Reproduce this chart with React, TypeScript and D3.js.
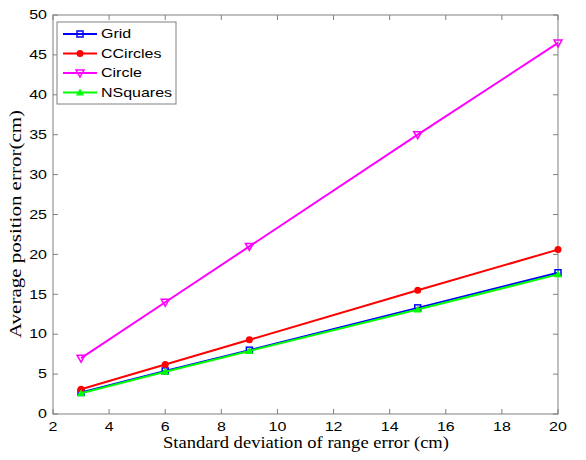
import React, { useEffect, useRef } from "react";
import * as d3 from "d3";

const xValues = [3, 6, 9, 15, 20];
const gridValues = [2.7, 5.4, 8.0, 13.3, 17.7];
const ccirclesValues = [3.1, 6.2, 9.3, 15.5, 20.6];
const circleValues = [7.0, 14.0, 21.0, 35.0, 46.5];
const nsquaresValues = [2.6, 5.3, 7.9, 13.1, 17.5];
const xTicks = [2, 4, 6, 8, 10, 12, 14, 16, 18, 20];
const yTicks = [0, 5, 10, 15, 20, 25, 30, 35, 40, 45, 50];

const series = [
  { name: "Grid", values: gridValues, color: "#0000ff", marker: "square" },
  { name: "CCircles", values: ccirclesValues, color: "#ff0000", marker: "circle" },
  { name: "Circle", values: circleValues, color: "#ff00ff", marker: "tridown" },
  { name: "NSquares", values: nsquaresValues, color: "#00ff00", marker: "triup" },
];

function drawMarker(g: any, kind: string, x: number, y: number, color: string) {
  if (kind === "square") {
    g.append("rect").attr("x", x - 3).attr("y", y - 3).attr("width", 6).attr("height", 6)
      .attr("fill", "none").attr("stroke", color).attr("stroke-width", 1.5);
  } else if (kind === "circle") {
    g.append("circle").attr("cx", x).attr("cy", y).attr("r", 3.5).attr("fill", color);
  } else if (kind === "tridown") {
    g.append("path").attr("d", `M${x - 4},${y - 3}L${x + 4},${y - 3}L${x},${y + 4}Z`)
      .attr("fill", "none").attr("stroke", color).attr("stroke-width", 1.5);
  } else {
    g.append("path").attr("d", `M${x - 4},${y + 3}L${x + 4},${y + 3}L${x},${y - 4}Z`)
      .attr("fill", color);
  }
}

export default function App() {
  const ref = useRef<SVGSVGElement>(null);

  useEffect(() => {
    const svg = d3.select(ref.current);
    svg.selectAll("*").remove();

    const left = 53, right = 558, top = 15, bottom = 414;
    const x = d3.scaleLinear().domain([2, 20]).range([left, right]);
    const y = d3.scaleLinear().domain([0, 50]).range([bottom, top]);
    const axisColor = "#808080";
    const squash = 0.75; // tick/legend text is flattened in the reference

    svg.append("rect").attr("width", 586).attr("height", 460).attr("fill", "#fff");

    // box and inward ticks
    const axes = svg.append("g").attr("stroke", axisColor).attr("stroke-width", 1);
    axes.append("rect").attr("x", left).attr("y", top).attr("width", right - left)
      .attr("height", bottom - top).attr("fill", "none");
    xTicks.forEach((t) => {
      axes.append("line").attr("x1", x(t)).attr("x2", x(t)).attr("y1", bottom).attr("y2", bottom - 5);
      axes.append("line").attr("x1", x(t)).attr("x2", x(t)).attr("y1", top).attr("y2", top + 5);
    });
    yTicks.forEach((t) => {
      axes.append("line").attr("x1", left).attr("x2", left + 5).attr("y1", y(t)).attr("y2", y(t));
      axes.append("line").attr("x1", right).attr("x2", right - 5).attr("y1", y(t)).attr("y2", y(t));
    });

    const tickFont = "Liberation Sans, Arial, sans-serif";
    svg.append("g").selectAll("text").data(xTicks).enter().append("text")
      .attr("transform", (d) => `translate(${x(d)},${bottom + 17}) scale(1,${squash})`)
      .attr("text-anchor", "middle")
      .attr("font-family", tickFont).attr("font-size", 16).text((d) => d);
    svg.append("g").selectAll("text").data(yTicks).enter().append("text")
      .attr("transform", (d) => `translate(${left - 6},${y(d) + 4.2}) scale(1,${squash})`)
      .attr("text-anchor", "end")
      .attr("font-family", tickFont).attr("font-size", 16).text((d) => d);

    const labelFont = "Liberation Serif, Times New Roman, serif";
    svg.append("text").attr("x", 163).attr("y", 448)
      .attr("textLength", 286).attr("lengthAdjust", "spacingAndGlyphs")
      .attr("font-family", labelFont).attr("font-size", 17)
      .text("Standard deviation of range error (cm)");
    svg.append("text").attr("transform", `translate(21,338) rotate(-90)`)
      .attr("textLength", 228).attr("lengthAdjust", "spacingAndGlyphs")
      .attr("font-family", labelFont).attr("font-size", 17)
      .text("Average position error(cm)");

    const line = d3.line<number>().x((_, i) => x(xValues[i])).y((d) => y(d));
    series.forEach((s) => {
      const g = svg.append("g");
      g.append("path").attr("d", line(s.values)).attr("fill", "none")
        .attr("stroke", s.color).attr("stroke-width", 2);
      s.values.forEach((v, i) => drawMarker(g, s.marker, x(xValues[i]), y(v), s.color));
    });

    // legend
    const lg = svg.append("g");
    lg.append("rect").attr("x", 57).attr("y", 22).attr("width", 119).attr("height", 82)
      .attr("fill", "#fff").attr("stroke", axisColor);
    series.forEach((s, i) => {
      const ly = 34 + i * 19.5;
      lg.append("line").attr("x1", 63).attr("x2", 97).attr("y1", ly).attr("y2", ly)
        .attr("stroke", s.color).attr("stroke-width", 2);
      drawMarker(lg, s.marker, 80, ly, s.color);
      lg.append("text").attr("transform", `translate(101,${ly + 4.3}) scale(1,${squash})`)
        .attr("font-family", tickFont).attr("font-size", 16).text(s.name);
    });
  }, []);

  return <svg ref={ref} width={586} height={460} style={{ position: "absolute", left: 0, top: 0 }} />;
}
